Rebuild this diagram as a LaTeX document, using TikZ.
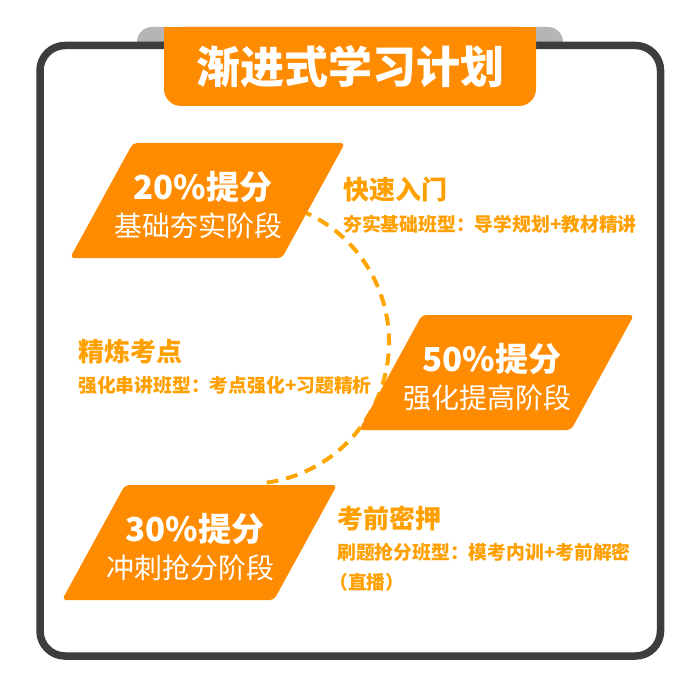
\documentclass[tikz,border=0pt]{standalone}
\usepackage{fontspec}
\setmainfont{Noto Sans CJK SC}
\usepackage{tikz}
\definecolor{frameclr}{RGB}{61,61,61}
\definecolor{tabclr}{RGB}{181,181,181}
\definecolor{boxclr}{RGB}{255,140,0}
\definecolor{inkclr}{RGB}{255,160,0}
\definecolor{dashclr}{RGB}{255,165,0}

\begin{document}
\begin{tikzpicture}[x=1pt,y=-1pt,
  pct/.style={font=\fontsize{33}{36}\selectfont\bfseries,text=white,inner sep=0},
  stg/.style={font=\fontsize{28}{30}\selectfont,text=white,inner sep=0},
  hd/.style={font=\fontsize{26}{28}\selectfont\bfseries,text=inkclr,inner sep=0,anchor=west},
  nt/.style={font=\fontsize{18.8}{20}\selectfont\bfseries,text=inkclr,inner sep=0,anchor=west}]
  \useasboundingbox (0,0) rectangle (700,700);
  \fill[tabclr,rounded corners=15] (137,27) rectangle (563,80);
  \draw[frameclr,line width=7.5,fill=white,rounded corners=25] (40,45.5) rectangle (660.5,656);
  \fill[boxclr,rounded corners=17] (164,27) rectangle (536,106);
  \fill[boxclr] (164,27) rectangle (536,60);
  \node[font=\fontsize{44}{48}\selectfont\bfseries,text=white] (title) at (350,67) {渐进式学习计划};
  \coordinate (hub) at (247,342);
  \draw[dashclr,line width=4,dash pattern=on 12 off 8] ([shift={(-68:142)}]hub) arc[start angle=-68,end angle=82,radius=142];
  \foreach \nm/\x/\y/\pc/\st in {one/133/143/20/基础夯实阶段,two/422/315/50/强化提高阶段,three/125/485/30/冲刺抢分阶段} {
    \fill[boxclr,rounded corners=4] (\x,\y) coordinate (\nm) -- ++(212,0) -- ++(-63,115) -- ++(-212,0) -- cycle;
    \node[pct] (\nm-pct) at ([shift={(70,44)}]\nm) {\pc\%提分};
    \node[stg] (\nm-stg) at ([shift={(65,83)}]\nm) {\st};
  }
  \node[hd] (t1) at (343,190) {快速入门};
  \node[nt] (n1) at (343,224) {夯实基础班型：导学规划+教材精讲};
  \node[hd] (t2) at (78,352) {精炼考点};
  \node[nt] (n2) at (78,385) {强化串讲班型：考点强化+习题精析};
  \node[hd] (t3) at (337,518) {考前密押};
  \node[nt] (n3) at (337,552) {刷题抢分班型：模考内训+考前解密};
  \node[nt] (n3b) at (329,582) {（直播）};
\end{tikzpicture}
\end{document}
